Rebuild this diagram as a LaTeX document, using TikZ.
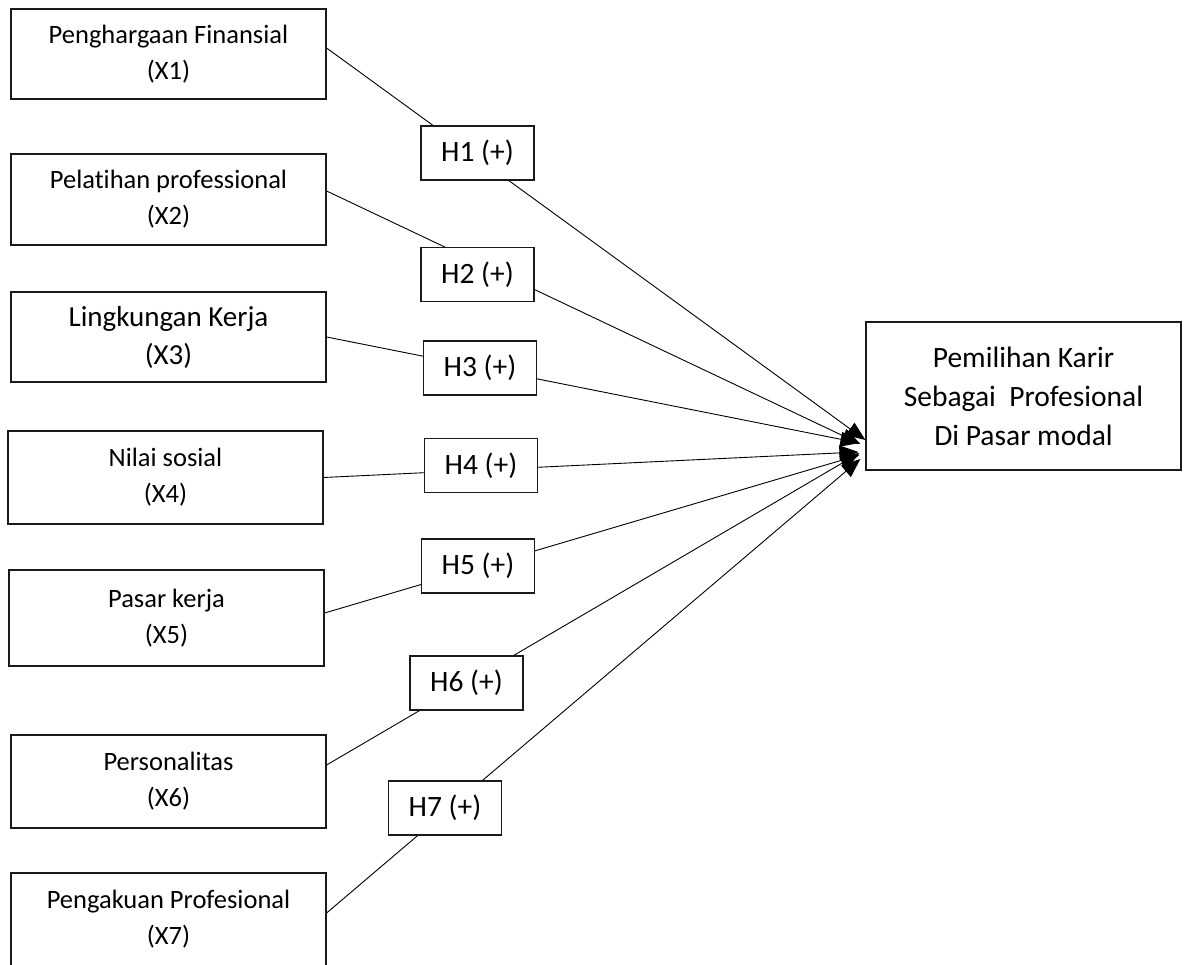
\documentclass[tikz,border=0pt]{standalone}
\usepackage{fontspec}
\setmainfont{Carlito}[Ligatures=NoCommon]
\usepackage{tikz}
\usetikzlibrary{arrows.meta,positioning}
\definecolor{Ink}{HTML}{1A1A1A}
\tikzset{
  varbox/.style={
    draw=Ink,line width=1.2pt,fill=white,
    minimum width=315pt,minimum height=91pt,inner sep=0pt,
    align=center,font=\fontsize{26.5}{36}\selectfont
  },
  hypbox/.style={
    draw=Ink,line width=1.2pt,fill=white,
    minimum width=113pt,minimum height=54pt,inner sep=0pt,
    font=\fontsize{29.5}{34}\selectfont
  },
  goalbox/.style={
    draw=Ink,line width=1.2pt,fill=white,
    minimum width=315pt,minimum height=148pt,inner sep=0pt,
    align=center,font=\fontsize{29.5}{39}\selectfont
  },
  link/.style={-{Triangle[length=19pt,width=15pt]},line width=0.9pt,draw=black}
}

\begin{document}
\begin{tikzpicture}[x=1pt,y=-1pt]
  \useasboundingbox (0,0) rectangle (1189,965);
  % variabel independen
  \node[varbox,minimum height=90pt] (X1) at (168.5,54) {Penghargaan Finansial\\(X1)};
  \node[varbox] (X2) at (168.5,199.5) {Pelatihan professional\\(X2)};
  \node[varbox,minimum height=90pt,font=\fontsize{29}{38}\selectfont] (X3) at (168.5,337) {Lingkungan Kerja\\(X3)};
  \node[varbox,minimum height=93pt] (X4) at (165.5,477.5) {Nilai sosial\\(X4)};
  \node[varbox,minimum height=96pt] (X5) at (166.5,618) {Pasar kerja\\(X5)};
  \node[varbox,minimum height=93pt] (X6) at (168.5,781.5) {Personalitas\\(X6)};
  \node[varbox,minimum height=93pt] (X7) at (168.5,919.5) {Pengakuan Profesional\\(X7)};
  % variabel dependen
  \node[goalbox] (Y) at (1023.5,396) {Pemilihan Karir\\Sebagai\ \ Profesional\\Di Pasar modal};
  % panah
  \foreach \i/\a/\b/\c in {1/6/-44/0,2/8.5/-48/-5,3/0/-47/-6,4/0/-56/-7,5/5/-59/-6,6/16.5/-57/-6,7/6.5/-63/-5}
    \draw[link] ([yshift=\a]X\i.east) -- ([xshift=\c,yshift=\b]Y.west);
  % hipotesis
  \foreach \i/\x/\y in {1/477.5/153,2/477.5/274.5,3/480/368,4/481/465.5,5/478/566,6/466.5/683,7/445/808}
    \node[hypbox] (H\i) at (\x,\y) {H\i\ (+)};
\end{tikzpicture}
\end{document}
